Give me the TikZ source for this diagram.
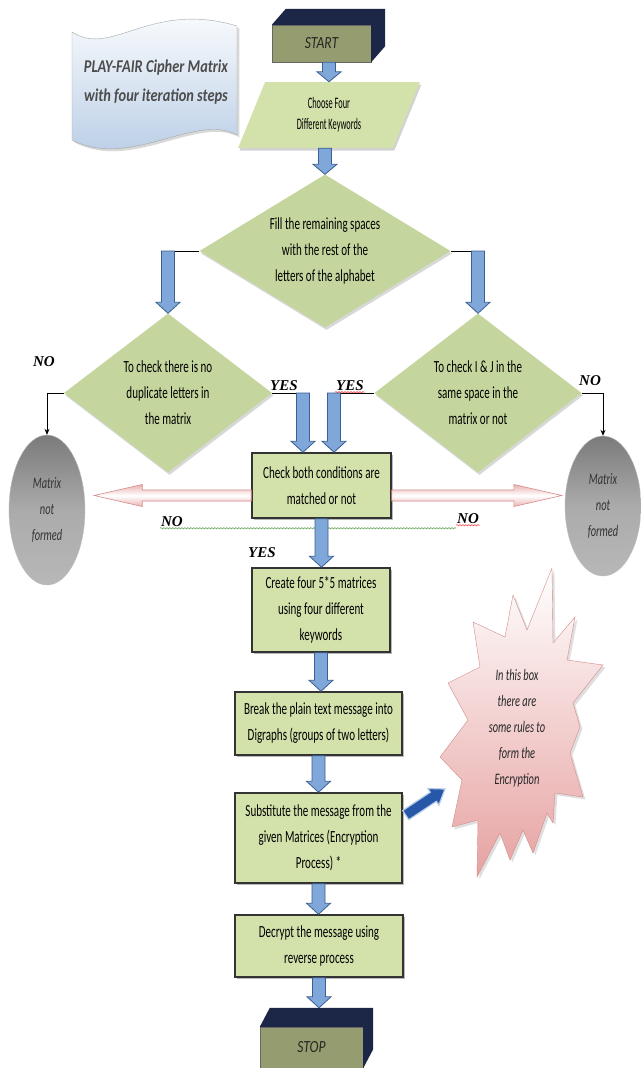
\documentclass[tikz,border=0pt]{standalone}
\usepackage{fontspec}
\setmainfont{Carlito}[FakeStretch=0.65]
\newfontfamily\titlefont{Carlito}[FakeStretch=0.8]
\newfontfamily\narrowfont{Carlito}[FakeStretch=0.52]
\newfontfamily\yesnofont{Liberation Serif}
\usetikzlibrary{calc,arrows.meta,shapes.geometric,shadows,decorations.pathmorphing}

\newcommand{\boxfont}{\fontsize{17}{26}\selectfont}
% flecha de bloque: [estilo]{desde}{hasta}{medio ancho}{medio ancho punta}{largo punta}
\newcommand{\blockarrow}[6][]{%
  \path[#1] let \p1=(#2), \p2=(#3), \n1={atan2(\y2-\y1,\x2-\x1)}, \n2={veclen(\x2-\x1,\y2-\y1)} in
    [shift={(\p1)}, rotate=\n1]
    (0pt,#4pt) -- ({\n2-#6pt},#4pt) -- ({\n2-#6pt},#5pt) -- (\n2,0pt)
    -- ({\n2-#6pt},-#5pt) -- ({\n2-#6pt},-#4pt) -- (0pt,-#4pt) -- cycle;}

\begin{document}
\begin{tikzpicture}[x=1pt,y=-1pt,
    procbox/.style={rectangle, draw=black!80, line width=1.5pt, fill=boxgreen, align=center,
      font=\boxfont, text=black, inner sep=2pt,
      drop shadow={shadow xshift=2pt, shadow yshift=-2pt, opacity=.55}},
    decision/.style={diamond, fill=diamgreen, align=center, font=\boxfont, text=black, inner sep=0pt,
      drop shadow={shadow xshift=1.5pt, shadow yshift=-2.5pt, opacity=.3}},
    termbox/.style={rectangle, draw=black!60, fill=olivefront, text=black!85,
      font=\titlefont\itshape\fontsize{17}{17}\selectfont},
    notformed/.style={ellipse, minimum width=76pt, inner sep=0pt, align=center, draw=black!25,
      top color=black!52, bottom color=black!28, middle color=black!33, text=black!80,
      font=\itshape\fontsize{16}{26}\selectfont},
    yesno/.style={font=\yesnofont\bfseries\itshape\fontsize{15}{15}\selectfont, inner sep=1pt},
    link/.style={draw=black, line width=0.8pt},
    bluearr/.style={draw=arrowline, fill=arrowfill, line width=0.8pt},
    pinkarr/.style={draw=pinkedge, line width=0.6pt, top color=pinkfill, bottom color=pinkfill, middle color=white},
    darkarr/.style={draw=lightblue, line width=1.2pt, fill=darkblue},
    squig/.style={decorate, decoration={snake, amplitude=0.7pt, segment length=3pt}, line width=0.5pt}]
  % colores
  \definecolor{boxgreen}{HTML}{D3E1AB}
  \definecolor{diamgreen}{HTML}{C4D69D}
  \definecolor{arrowfill}{HTML}{7FA7D9}
  \definecolor{arrowline}{HTML}{3B5F91}
  \definecolor{navyface}{HTML}{1C2748}
  \definecolor{olivefront}{HTML}{959D70}
  \definecolor{docblue}{HTML}{B4CAE4}
  \definecolor{pinkedge}{HTML}{D58B8A}
  \definecolor{pinkfill}{HTML}{EAB3B2}
  \definecolor{starpink}{HTML}{E6A2A1}
  \definecolor{darkblue}{HTML}{2657A8}
  \definecolor{lightblue}{HTML}{B7CDE8}
  \definecolor{sqgreen}{HTML}{4E9A3A}
  \path[use as bounding box, fill=white] (0,0) rectangle (640,1068);

  % titulo
  \draw[draw=black!35, top color=white, bottom color=docblue, drop shadow={opacity=.3}]
    (72,32) .. controls (112,58) and (150,0) .. (237,26) -- (237,135)
    .. controls (196,112) and (130,170) .. (72,140) -- cycle;
  \node[font=\titlefont\bfseries\itshape\fontsize{18}{29}\selectfont, text=black!70, align=center]
    (title) at (156,82) {PLAY-FAIR Cipher Matrix\\with four iteration steps};

  % inicio y fin
  \node[termbox, minimum width=99pt, minimum height=37pt] (start) at (321.5,43.5) {START};
  \fill[navyface] (start.north west) -- ++(14,-16) -- ($(start.north east)+(14,-16)$)
    -- ($(start.south east)+(14,-16)$) -- (start.south east) -- (start.north east) -- cycle;
  \node[termbox, minimum width=103pt, minimum height=41pt] (stop) at (311.5,1047.5) {STOP};
  \fill[navyface] (stop.north west) -- ++(10,-19) -- ($(stop.north east)+(10,-19)$)
    -- ($(stop.south east)+(10,-19)$) -- (stop.south east) -- (stop.north east) -- cycle;

  % pasos
  \node[trapezium, trapezium left angle=70, trapezium right angle=110, trapezium stretches=true,
    minimum width=182pt, minimum height=66pt, fill=boxgreen, align=center, text=black,
    font=\narrowfont\fontsize{16}{21}\selectfont, drop shadow={shadow xshift=1.5pt, shadow yshift=-2.5pt, opacity=.35}]
    (choose) at (329,115) {Choose Four\\Different Keywords};
  \node[decision, aspect=1.64, minimum width=251pt, minimum height=153pt] (remain) at (325,251)
    {Fill the remaining spaces\\with the rest of the\\letters of the alphabet};
  \node[decision, aspect=1.31, minimum width=208pt, minimum height=159pt] (dup) at (168,393)
    {To check there is no\\duplicate letters in\\the matrix};
  \node[decision, aspect=1.3, minimum width=207pt, minimum height=159pt] (ij) at (478,393)
    {To check I \& J in the\\same space in the\\matrix or not};
  \node[notformed, minimum height=150pt] (nf1) at (47,510) {Matrix\\not\\formed};
  \node[notformed, minimum height=140pt] (nf2) at (603,506) {Matrix\\not\\formed};
  \node[procbox, minimum width=139pt, minimum height=65pt] (check) at (321.5,485.5)
    {Check both conditions are\\matched or not};
  \node[procbox, minimum width=138pt, minimum height=84pt] (create) at (321,610)
    {Create four 5*5 matrices\\using four different\\keywords};
  \node[procbox, minimum width=167pt, minimum height=63pt] (digraph) at (318.5,723.5)
    {Break the plain text message into\\Digraphs (groups of two letters)};
  \node[procbox, minimum width=167pt, minimum height=90pt] (subst) at (318.5,838)
    {Substitute the message from the\\given Matrices (Encryption\\Process) *};
  \node[procbox, minimum width=168pt, minimum height=62pt] (decrypt) at (319,946)
    {Decrypt the message using\\reverse process};

  % estrella
  \path[draw=pinkedge, top color=white, bottom color=starpink, drop shadow={opacity=.25}]
    (552,568) -- (527,630) -- (513,595) -- (505,637) -- (473,622) -- (480,667) -- (448,683)
    -- (468,720) -- (440,757) -- (462,780) -- (452,827) -- (478,820) -- (477,877) -- (500,833)
    -- (510,860) -- (523,830) -- (533,853) -- (547,813) -- (553,823) -- (555,793) -- (583,797)
    -- (570,753) -- (580,727) -- (573,703) -- (603,665) -- (567,660) -- (575,617) -- (553,643) -- cycle;
  \node[font=\itshape\fontsize{16}{26}\selectfont, align=center, text=black!85] (rules) at (517,728)
    {In this box\\there are\\some rules to\\form the\\Encryption};
  \coordinate (starin) at (445,789);

  % etiquetas
  \node[yesno] (nodup) at (44,362) {NO};
  \node[yesno] (yesdup) at (284,386) {YES};
  \node[yesno] (yesij) at (350,386) {YES};
  \node[yesno] (noij) at (590,381) {NO};
  \node[yesno] (nol) at (172,522) {NO};
  \node[yesno] (nor) at (468,519) {NO};
  \node[yesno] (yesc) at (262,553) {YES};
  \draw[squig, sqgreen] (nol.south west) -- (nol.south west -| nor.south west);
  \draw[squig, red!80] (nor.south west) -- (nor.south east);
  \draw[squig, red!80] (yesij.south west) -- (yesij.south east);

  % conectores
  \draw[link] (remain.west) -- (remain.west -| dup.north);
  \draw[link] (remain.east) -- (remain.east -| ij.north);
  \draw[link, -{Stealth[length=6pt,width=5pt]}] (dup.west) -| (nf1.north);
  \draw[link, -{Stealth[length=6pt,width=5pt]}] (ij.east) -| (nf2.north);
  \coordinate (yl) at (303,393);
  \coordinate (yr) at (334,393);
  \draw[link] (dup.east) -- (yl);
  \draw[link] (ij.west) -- (yr);
  \coordinate (pl) at ($(check.west)+(0,10)$);
  \coordinate (pr) at ($(check.east)+(0,10)$);
  \blockarrow[pinkarr]{pl}{$(pl -| nf1.east)+(9,0)$}{5.5}{11}{48}
  \blockarrow[pinkarr]{pr}{$(pr -| nf2.west)+(-3,0)$}{5.5}{11}{48}
  \blockarrow[bluearr]{choose.north |- start.south}{choose.north}{6.5}{12}{10}
  \blockarrow[bluearr]{remain.north |- choose.south}{remain.north}{6.5}{12}{10}
  \blockarrow[bluearr]{remain.west -| dup.north}{dup.north}{6.5}{12}{11}
  \blockarrow[bluearr]{remain.east -| ij.north}{ij.north}{6.5}{12}{11}
  \blockarrow[bluearr]{yl}{yl |- check.north}{6.5}{12}{11}
  \blockarrow[bluearr]{yr}{yr |- check.north}{6.5}{12}{11}
  \blockarrow[bluearr]{check.south}{check.south |- create.north}{6.5}{12}{11}
  \blockarrow[bluearr]{create.south}{create.south |- digraph.north}{6.5}{12}{11}
  \blockarrow[bluearr]{digraph.south}{subst.north}{6.5}{12}{11}
  \blockarrow[bluearr]{subst.south}{subst.south |- decrypt.north}{6.5}{12}{11}
  \blockarrow[bluearr]{decrypt.south}{$(decrypt.south |- stop.north)+(0,-19)$}{6.5}{12}{11}
  \blockarrow[darkarr]{$(subst.north east)!0.25!(subst.south east)+(3,0)$}{starin}{5.5}{10}{14}
\end{tikzpicture}
\end{document}
